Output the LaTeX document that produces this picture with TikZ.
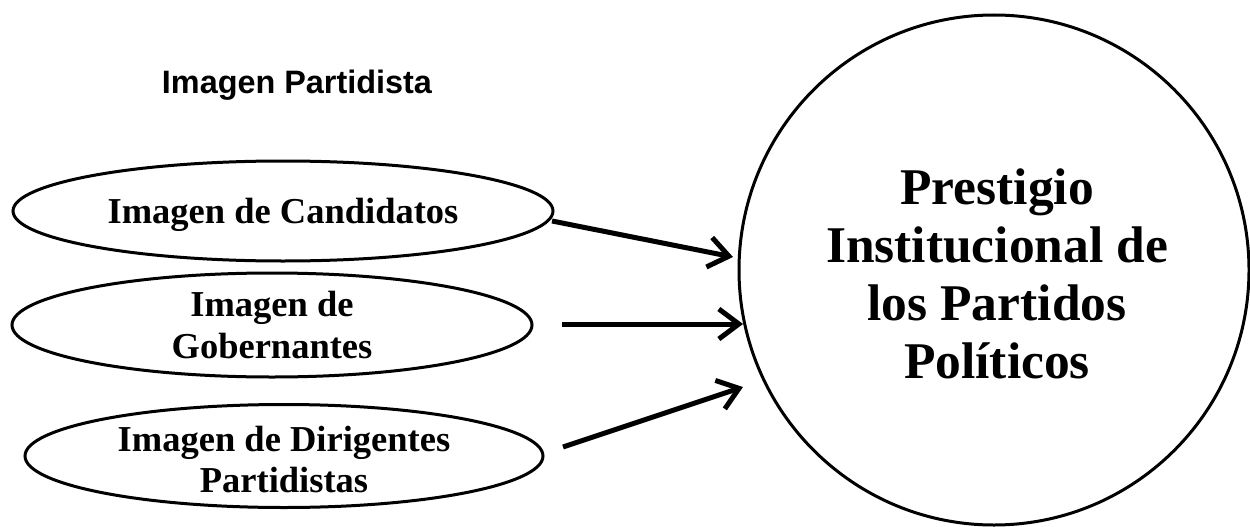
\documentclass[tikz,border=0pt]{standalone}
\usepackage{fontspec}
\setmainfont{Liberation Serif}
\newfontfamily\titlefont{Liberation Sans}
\usetikzlibrary{shapes.geometric,arrows.meta}
\tikzset{
  oval/.style={draw, line width=3pt, ellipse, inner sep=0pt},
  ovaltext/.style={align=center, anchor=base, font=\fontsize{36.5}{42}\selectfont\bfseries},
  bigcircle/.style={draw, line width=3pt, circle, inner sep=0pt, minimum size=510pt},
  bigtext/.style={align=center, anchor=base, font=\fontsize{51.5}{58}\selectfont\bfseries},
  conn/.style={line width=5pt, -{Straight Barb[length=20pt,width=30pt]}},
}
\begin{document}
\begin{tikzpicture}[x=1pt,y=-1pt]
\useasboundingbox (0,0) rectangle (1250,527);
\node[font=\titlefont\fontsize{32.4}{38}\selectfont\bfseries, anchor=base] (title) at (297,93) {Imagen Partidista};
\node[oval, minimum width=540pt, minimum height=100pt] (e1) at (283,211) {};
\node[ovaltext] (t1) at (283,223) {Imagen de Candidatos};
\node[oval, minimum width=520pt, minimum height=104pt] (e2) at (272,325) {};
\node[ovaltext] (t2) at (272,358) {Imagen de\\Gobernantes};
\node[oval, minimum width=518pt, minimum height=103pt] (e3) at (284,456) {};
\node[ovaltext, font=\fontsize{36.5}{40.5}\selectfont\bfseries] (t3) at (284,492) {Imagen de Dirigentes\\Partidistas};
\node[bigcircle] (c) at (994,270) {};
\node[bigtext] (ct) at (997,378) {Prestigio\\Institucional de\\los Partidos\\Políticos};
\coordinate (s1) at (552,221);
\coordinate (d1) at (733,257);
\coordinate (s2) at (562,324);
\coordinate (d2) at (743,324);
\coordinate (s3) at (563,447);
\coordinate (d3) at (743,387);
\draw[conn] (s1) -- (d1);
\draw[conn] (s2) -- (d2);
\draw[conn] (s3) -- (d3);
\end{tikzpicture}
\end{document}
